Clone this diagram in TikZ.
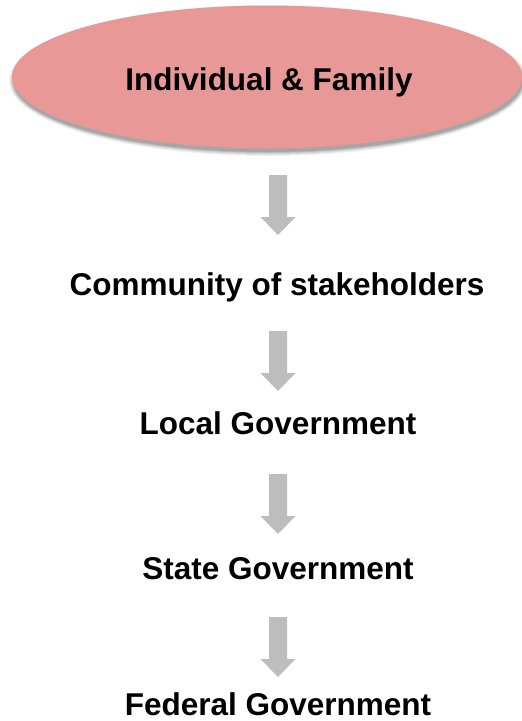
\documentclass[tikz,border=0pt]{standalone}
\usepackage{fontspec}
\setmainfont{Liberation Sans}
\usetikzlibrary{shapes.geometric}
\definecolor{pinkfill}{HTML}{E89896}
\definecolor{arrowgray}{HTML}{BDBDBD}
\newcommand\blkarrow[1]{%
  \fill[blk] (269,#1) -- (287,#1) -- (287,#1+42) -- (295.5,#1+42) -- (278,#1+60)
    -- (260.5,#1+42) -- (269,#1+42) -- cycle;}
\begin{document}
\begin{tikzpicture}[x=1pt,y=-1pt,
  lbl/.style={font=\fontsize{31.5}{36}\selectfont\bfseries, anchor=base, inner sep=0pt},
  blk/.style={fill=arrowgray, draw=none},
  oval/.style={ellipse, inner sep=0pt, minimum width=510pt, minimum height=143pt, draw=none}]
\useasboundingbox (0,0) rectangle (522,721);
% soft shadow of the ellipse
\foreach \r/\o in {4/0.05,3/0.06,2/0.08,1/0.10,0/0.12}{
  \fill[black, opacity=\o] (268,80.5) ellipse [x radius=255+\r, y radius=71.5+\r];
}
\node[oval, fill=pinkfill] (e) at (267,77) {};
\node[lbl] (t1) at (269,90) {Individual \& Family};
\node[lbl] (t2) at (277,295) {Community of stakeholders};
\node[lbl] (t3) at (278,434) {Local Government};
\node[lbl] (t4) at (278,579) {State Government};
\node[lbl, text depth=0pt] (t5) at (278,715.5) {Federal Government};
\blkarrow{175}
\blkarrow{331}
\blkarrow{474}
\blkarrow{617}
\end{tikzpicture}
\end{document}
